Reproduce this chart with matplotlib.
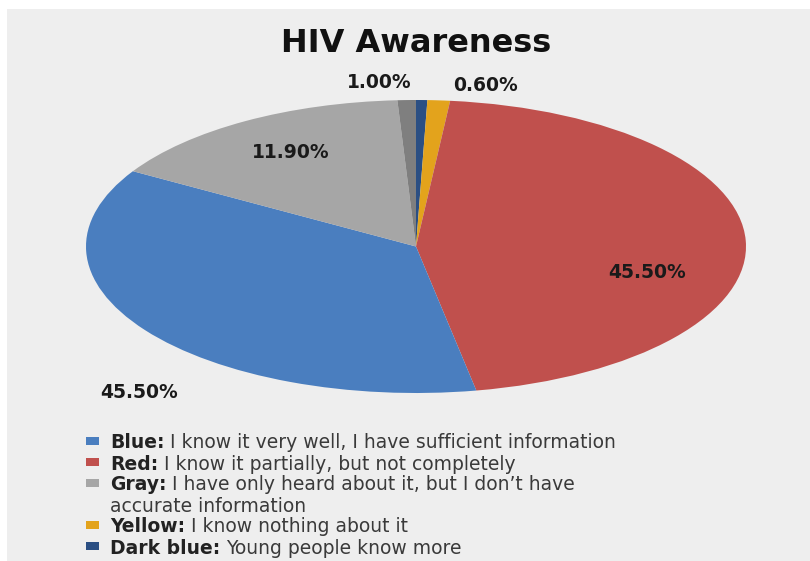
import numpy as np
import matplotlib
matplotlib.use('Agg')
import matplotlib.pyplot as plt
from matplotlib.patches import Rectangle

# Slices, clockwise from 12 o'clock (shares)
slice_names = ['Dark blue', 'Yellow', 'Red', 'Blue', 'Gray', 'Dark gray']
slice_shares = [0.55, 1.1, 45.4, 36.5, 15.5, 0.9]
slice_labels = ['1.00%', '0.60%', '45.50%', '45.50%', '11.90%', '']
slice_colors = ['#2b4f83', '#e3a31c', '#c0504d', '#4a7ebf', '#a6a6a6', '#7f7f7f']

# Legend entries
legend_keys = ['Blue:', 'Red:', 'Gray:', 'Yellow:', 'Dark blue:']
legend_texts = ['I know it very well, I have sufficient information',
                'I know it partially, but not completely',
                'I have only heard about it, but I don\u2019t have\naccurate information',
                'I know nothing about it',
                'Young people know more']
legend_colors = ['#4a7ebf', '#c0504d', '#a6a6a6', '#e3a31c', '#2b4f83']

# where each percentage sits, in the pie's own unit coordinates
label_xy = [(-0.11, 1.12), (0.21, 1.10), (0.70, -0.18), (-0.84, -1.0), (-0.38, 0.645), (0, 0)]

W, H = 810, 561


def main():
    fig = plt.figure(figsize=(W / 100, H / 100), dpi=100, facecolor='white')
    # slide background (white strip on top and left, as in the screenshot)
    fig.patches.append(Rectangle((7 / W, 0), 1, 1 - 9 / H, transform=fig.transFigure,
                                 facecolor='#eeeeee', edgecolor='none', zorder=-10))

    fig.text(416 / W, 1 - 44 / H, 'HIV Awareness', ha='center', va='center',
             fontsize=23, fontweight='bold', color='#111111')

    # stretched pie (ellipse), like the reference
    ax = fig.add_axes([86 / W, 1 - 393 / H, 660 / W, 293 / H])
    ax.pie(slice_shares, colors=slice_colors, startangle=90, counterclock=False,
           wedgeprops=dict(linewidth=0))
    ax.set_aspect('auto')
    ax.set_xlim(-1, 1)
    ax.set_ylim(-1, 1)
    ax.axis('off')

    for lab, (x, y) in zip(slice_labels, label_xy):
        if lab:
            ax.text(x, y, lab, ha='center', va='center', fontsize=13.5,
                    fontweight='bold', color='#1a1a1a')

    # legend, drawn line by line (bold colour name + normal text)
    renderer = fig.canvas.get_renderer()
    top = 441
    pitch = 21
    line = 0
    for key, txt, col in zip(legend_keys, legend_texts, legend_colors):
        yc = top + pitch * line
        fig.patches.append(Rectangle((86 / W, 1 - (yc + 4) / H), 13 / W, 8 / H,
                                     transform=fig.transFigure, facecolor=col,
                                     edgecolor='none'))
        k = fig.text(110 / W, 1 - yc / H, key, ha='left', va='center_baseline',
                     fontsize=13.5, fontweight='bold', color='#222222')
        bb = k.get_window_extent(renderer)
        first, *rest = txt.split('\n')
        fig.text(bb.x1 / W + 6 / W, 1 - yc / H, first, ha='left', va='center_baseline',
                 fontsize=13.5, color='#3a3a3a')
        for extra in rest:
            line += 1
            fig.text(110 / W, 1 - (top + pitch * line) / H, extra, ha='left',
                     va='center_baseline', fontsize=13.5, color='#3a3a3a')
        line += 1

    plt.savefig('out.png', dpi=100, facecolor=fig.get_facecolor())


if __name__ == '__main__':
    main()
